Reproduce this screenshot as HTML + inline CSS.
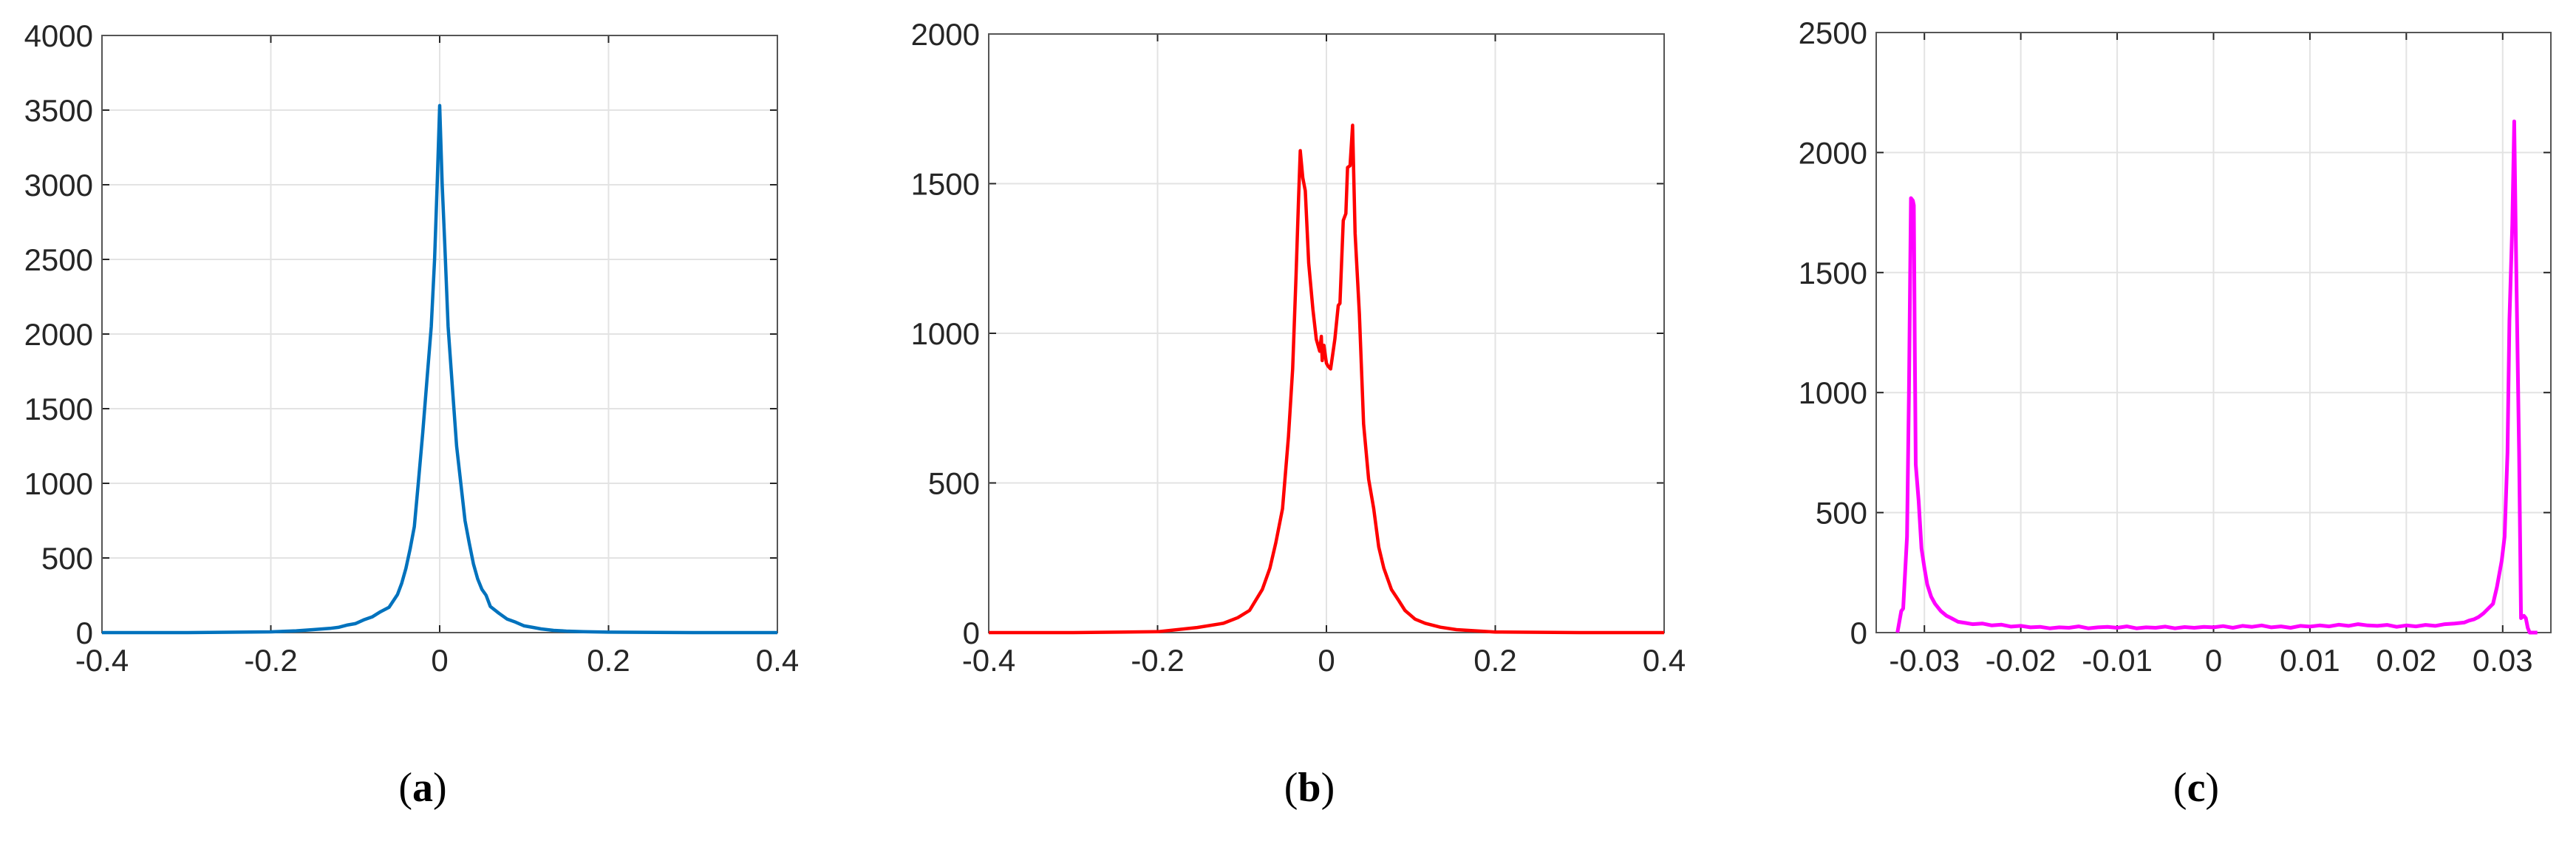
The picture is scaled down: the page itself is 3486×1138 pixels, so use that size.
<!DOCTYPE html>
<html><head><meta charset="utf-8">
<style>
html,body{margin:0;padding:0;background:#fff;}
svg{display:block;}
text{font-family:"Liberation Sans",sans-serif;fill:#262626;}
.cap{font-family:"Liberation Serif",serif;fill:#000;font-size:56px;}
</style></head>
<body>
<svg id="fig" width="3486" height="1138" viewBox="0 0 3486 1138"></svg>
<script>
// Panel (a) data
const aX = [-0.4,-0.3,-0.2,-0.17,-0.15,-0.13,-0.12,-0.11,-0.1,-0.09,-0.08,-0.07,-0.06,-0.05,-0.045,-0.04,-0.035,-0.03,-0.025,-0.02,-0.015,-0.01,-0.006,-0.003,0,0.003,0.006,0.01,0.015,0.02,0.025,0.03,0.035,0.04,0.045,0.05,0.055,0.06,0.07,0.08,0.09,0.1,0.11,0.12,0.135,0.15,0.17,0.2,0.3,0.4];
const aY = [0,0,5,12,20,28,35,50,60,85,105,140,170,255,330,430,560,710,1020,1340,1700,2050,2500,3000,3530,3000,2600,2050,1650,1250,1000,750,600,460,360,290,250,175,130,90,70,45,35,25,15,10,6,3,0,0];
// Panel (b) data
const bX = [-0.4,-0.3,-0.2,-0.153,-0.122,-0.105,-0.091,-0.076,-0.067,-0.06,-0.052,-0.045,-0.04,-0.036,-0.033,-0.031,-0.028,-0.025,-0.021,-0.016,-0.012,-0.008,-0.006,-0.005,-0.003,-0.002,0,0.002,0.005,0.008,0.01,0.014,0.016,0.02,0.023,0.025,0.028,0.031,0.034,0.039,0.044,0.05,0.056,0.062,0.068,0.077,0.085,0.093,0.105,0.117,0.135,0.154,0.2,0.3,0.4];
const bY = [0,0,3,17,31,50,74,144,215,300,414,654,881,1193,1450,1610,1520,1476,1235,1080,980,940,990,909,960,940,900,890,881,940,980,1093,1100,1377,1400,1554,1560,1695,1334,1065,697,513,414,286,215,144,110,74,45,31,18,10,2,0,0];
// Panel (c) data
const cX = [-0.0328,-0.0324,-0.0322,-0.032,-0.0318,-0.0316,-0.0314,-0.0312,-0.0311,-0.031,-0.0309,-0.0306,-0.0303,-0.03,-0.0297,-0.0293,-0.0289,-0.0283,-0.0277,-0.0272,-0.0265,-0.0257,-0.025,-0.024,-0.023,-0.022,-0.021,-0.02,-0.019,-0.018,-0.017,-0.016,-0.015,-0.014,-0.013,-0.012,-0.011,-0.01,-0.009,-0.008,-0.007,-0.006,-0.005,-0.004,-0.003,-0.002,-0.001,0,0.001,0.002,0.003,0.004,0.005,0.006,0.007,0.008,0.009,0.01,0.011,0.012,0.013,0.014,0.015,0.016,0.017,0.018,0.019,0.02,0.021,0.022,0.023,0.024,0.025,0.026,0.0265,0.027,0.0275,0.028,0.0285,0.029,0.0294,0.0299,0.0302,0.0305,0.0307,0.031,0.0312,0.0314,0.0317,0.0319,0.0322,0.0324,0.0326,0.0328,0.0336];
const cY = [0,90,100,250,400,1000,1810,1800,1780,1200,700,550,350,270,200,150,120,90,70,60,45,40,35,38,30,33,25,28,22,24,18,22,20,26,18,22,24,20,26,18,22,20,25,18,23,20,24,22,27,20,28,24,30,22,26,20,28,25,30,26,33,28,35,30,28,32,24,30,26,32,28,35,38,42,50,55,65,80,100,120,190,300,400,750,1300,1700,2130,1550,750,60,70,60,20,0,0];
const abXTicks = [-0.4,-0.2,0,0.2,0.4];
const abXLabels = ["-0.4","-0.2","0","0.2","0.4"];
const cXTicks = [-0.03,-0.02,-0.01,0,0.01,0.02,0.03];
const cXLabels = ["-0.03","-0.02","-0.01","0","0.01","0.02","0.03"];
const aYTicks = [0,500,1000,1500,2000,2500,3000,3500,4000];
const bYTicks = [0,500,1000,1500,2000];
const cYTicks = [0,500,1000,1500,2000,2500];
const captions = ["a","b","c"];

const NS = "http://www.w3.org/2000/svg";
const svg = document.getElementById("fig");
function mk(tag, attrs, parent){
  const e = document.createElementNS(NS, tag);
  for (const k in attrs) e.setAttribute(k, attrs[k]);
  (parent||svg).appendChild(e);
  return e;
}
function panel(id, L, R, T, B, xmin, xmax, ymax, xs, ys, xt, xl, yt, color, sw, capX, cap){
  const g = mk("g", {});
  
  
  const sx = v => L + (v - xmin) / (xmax - xmin) * (R - L);
  const sy = v => B - v / ymax * (B - T);
  xt.forEach((v, i) => {
    const x = sx(v);
    const gl = mk("line", {x1:x, x2:x, y1:T, y2:B, stroke:"#e3e3e3", "stroke-width":2}, g);
    
    
    mk("line", {x1:x, x2:x, y1:B, y2:B-10, stroke:"#262626", "stroke-width":2}, g);
    mk("line", {x1:x, x2:x, y1:T, y2:T+10, stroke:"#262626", "stroke-width":2}, g);
    const t = mk("text", {x:x, y:B+52, "font-size":42, "text-anchor":"middle"}, g);
    t.textContent = xl[i];
    
    
  });
  yt.forEach(v => {
    const y = sy(v);
    const gl = mk("line", {x1:L, x2:R, y1:y, y2:y, stroke:"#e3e3e3", "stroke-width":2}, g);
    
    
    mk("line", {x1:L, x2:L+10, y1:y, y2:y, stroke:"#262626", "stroke-width":2}, g);
    mk("line", {x1:R, x2:R-10, y1:y, y2:y, stroke:"#262626", "stroke-width":2}, g);
    const t = mk("text", {x:L-12, y:y+15, "font-size":42, "text-anchor":"end"}, g);
    t.textContent = String(v);
    
    
  });
  const box = mk("rect", {x:L, y:T, width:R-L, height:B-T, fill:"none", stroke:"#555", "stroke-width":2}, g);
  
  
  let d = "";
  xs.forEach((v, i) => { d += (i ? "L" : "M") + sx(v).toFixed(1) + "," + sy(ys[i]).toFixed(1); });
  const p = mk("path", {d:d, fill:"none", stroke:color, "stroke-width":sw, "stroke-linejoin":"round"}, g);
  
  
  const c = mk("text", {x:capX, y:1084, "text-anchor":"middle", class:"cap"}, g);
  
  
  c.appendChild(document.createTextNode("("));
  const b = mk("tspan", {"font-weight":"bold"}, c);
  b.textContent = cap;
  c.appendChild(document.createTextNode(")"));
}
panel("a", 138, 1052, 48, 856, -0.4, 0.4, 4000, aX, aY, abXTicks, abXLabels, aYTicks, "#0072BD", 4.5, 572, captions[0]);
panel("b", 1338, 2252, 46, 856, -0.4, 0.4, 2000, bX, bY, abXTicks, abXLabels, bYTicks, "#FF0000", 4.5, 1772, captions[1]);
panel("c", 2539, 3452, 44, 856, -0.035, 0.035, 2500, cX, cY, cXTicks, cXLabels, cYTicks, "#FF00FF", 5, 2972, captions[2]);
</script>
</body></html>
